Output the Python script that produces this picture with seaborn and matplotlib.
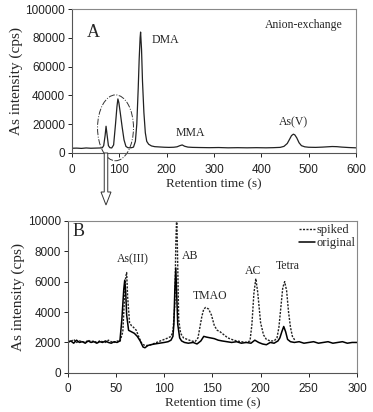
import numpy as np
import pandas as pd
import seaborn as sns
import matplotlib.pyplot as plt
from matplotlib.patches import Ellipse, FancyArrow

# panel A: anion-exchange chromatogram
a_time = [0, 10, 20, 30, 40, 50, 60,
          64, 67, 70, 72, 74, 77, 80,
          84, 88, 92, 95, 97, 99, 102,
          106, 110, 114, 118, 122, 126, 130,
          134, 137, 140, 142, 144, 145, 147,
          149, 152, 155, 158, 162, 168, 175,
          185, 195, 205, 215, 222, 228, 233,
          238, 245, 255, 270, 290, 310, 330,
          350, 370, 390, 410, 425, 440, 448,
          455, 460, 464, 468, 471, 475, 480,
          485, 492, 500, 515, 530, 540, 550,
          560, 570, 585, 600]
a_intensity = [3200, 3300, 3100, 3400, 3200, 3300, 3400,
               3500, 5000, 12000, 18500, 13000, 5000, 3600,
               3400, 5500, 20000, 32000, 37500, 35000, 28000,
               18000, 9000, 4500, 3600, 3500, 3600, 4000,
               8000, 20000, 45000, 65000, 80000, 84000, 72000,
               50000, 28000, 14000, 8000, 6000, 4800, 4300,
               4100, 3900, 3800, 3900, 4200, 5000, 5500,
               4600, 4000, 3800, 3700, 3600, 3700, 3500,
               3600, 3500, 3600, 3500, 3600, 3800, 4500,
               6500, 9500, 12000, 13000, 12500, 10500, 7000,
               5000, 4200, 3900, 3800, 4000, 4200, 4400,
               4300, 4000, 3700, 3500]

# panel B: original sample
b_time = [0, 3, 6, 9, 12, 15, 18, 21, 24, 27,
          30, 33, 36, 39, 42, 45, 48, 51, 54, 56,
          58, 59, 60, 61, 63, 66, 69, 72, 75, 78,
          80, 83, 86, 90, 95, 100, 104, 107, 109, 110,
          111, 112, 113, 114, 116, 118, 121, 125, 130, 134,
          138, 141, 144, 148, 152, 156, 160, 165, 170, 175,
          180, 185, 190, 194, 198, 202, 206, 210, 214, 218,
          220, 222, 224, 226, 228, 231, 235, 240, 245, 250,
          255, 260, 265, 270, 275, 280, 285, 290, 295, 300]
b_original = [2000, 2100, 1950, 2150, 2000, 2050, 1950, 2100, 2000, 2050,
              1950, 2050, 2000, 2100, 2000, 1950, 2050, 2000, 2100, 3500,
              5500, 6100, 5300, 3800, 2800, 2700, 2600, 2400, 2100, 1700,
              1650, 1800, 1850, 1900, 1950, 2000, 2050, 2150, 2400, 3200,
              5500, 6900, 5000, 3200, 2300, 2100, 2000, 1950, 2000, 1900,
              2100, 2400, 2350, 2300, 2250, 2150, 2100, 2050, 2000, 2050,
              1950, 2000, 1950, 2150, 2000, 1900, 1850, 2000, 1950, 2100,
              2300, 2700, 3050, 2700, 2200, 2050, 2000, 2050, 1950, 2000,
              2050, 1950, 2000, 2050, 1950, 2000, 2050, 1950, 2000, 2000]

# panel B: spiked sample
s_time = [0, 3, 6, 9, 12, 15, 18, 21, 24, 27,
          30, 33, 36, 39, 42, 45, 48, 51, 54, 57,
          59, 60, 61, 62, 64, 66, 68, 71, 74, 77,
          80, 84, 88, 92, 96, 100, 104, 107, 109, 111,
          112, 113, 114, 115, 117, 120, 124, 128, 132, 135,
          137, 139, 141, 143, 146, 149, 152, 155, 158, 162,
          166, 170, 175, 180, 185, 189, 191, 193, 195, 197,
          200, 203, 206, 210, 214, 217, 219, 221, 223, 225,
          227, 229, 231, 233, 236]
s_spiked = [2100, 2050, 2200, 2000, 2100, 2050, 2000, 2150, 2050, 2100,
            2000, 2100, 2050, 2000, 2150, 2050, 2000, 2100, 2050, 2700,
            5200, 6300, 6600, 5000, 3300, 3100, 3000, 2800, 2300, 1900,
            1800, 1800, 1900, 2000, 2100, 2200, 2300, 2400, 2700, 4500,
            8500, 10500, 7000, 3500, 2600, 2300, 2200, 2100, 2050, 2300,
            3000, 3700, 4200, 4300, 4200, 3800, 3100, 2800, 2700, 2500,
            2300, 2200, 2100, 2050, 2000, 2100, 3200, 5200, 6200, 5300,
            3300, 2500, 2200, 2100, 2100, 2300, 3000, 4300, 5600, 6000,
            5400, 4000, 3000, 2400, 2100]

a_labels = ['DMA', 'MMA', 'As(V)']
a_label_x = [169, 218, 438]
a_label_y = [78500, 13900, 21500]
b_labels = ['As(III)', 'AB', 'TMAO', 'AC', 'Tetra']
b_label_x = [51, 118, 130, 184, 216]
b_label_y = [7500, 7700, 5070, 6700, 7040]

sns.set_style('ticks')
plt.rcParams['font.family'] = ['Liberation Sans', 'DejaVu Sans']
serif = 'Liberation Serif'

fig = plt.figure(figsize=(3.73, 4.12), dpi=100)
ax1 = fig.add_axes([0.193, 0.629, 0.761, 0.349])
ax2 = fig.add_axes([0.182, 0.095, 0.775, 0.369])

dfa = pd.DataFrame({'t': a_time, 'I': a_intensity})
sns.lineplot(data=dfa, x='t', y='I', ax=ax1, color='#222222', lw=0.9, sort=False)

dfb = pd.DataFrame({'t': b_time, 'I': b_original})
dfs = pd.DataFrame({'t': s_time, 'I': s_spiked})
sns.lineplot(data=dfs, x='t', y='I', ax=ax2, color='#222222', lw=1.0,
             sort=False, label='spiked').lines[-1].set_dashes((1.5, 1))
sns.lineplot(data=dfb, x='t', y='I', ax=ax2, color='black', lw=1.1,
             sort=False, label='original')

for ax in (ax1, ax2):
    for sp in ax.spines.values():
        sp.set_visible(True)
        sp.set_color('#888888')
        sp.set_linewidth(0.8)
    ax.spines['left'].set_color('#555555')
    ax.spines['bottom'].set_color('#555555')
    ax.tick_params(labelsize=8.5, length=3, width=0.7, pad=2, colors='#222222')
    ax.set_ylabel('As intensity (cps)', family=serif, fontsize=11, labelpad=2)
    ax.set_xlabel('Retention time (s)', family=serif, fontsize=9.5, labelpad=2)

ax1.tick_params(axis='x', pad=5)
ax2.tick_params(axis='x', pad=4)

ax1.set_xlim(0, 600)
ax1.set_ylim(0, 100000)
ax1.set_xticks(range(0, 601, 100))
ax1.set_yticks(range(0, 100001, 20000))
ax2.set_xlim(0, 300)
ax2.set_ylim(0, 10000)
ax2.set_xticks(range(0, 301, 50))
ax2.set_yticks(range(0, 10001, 2000))

ax1.text(32, 84000, 'A', family=serif, fontsize=13, va='center')
ax1.text(408, 88900, 'Anion-exchange', family=serif, fontsize=8.5, va='center')
for lab, x, y in zip(a_labels, a_label_x, a_label_y):
    ax1.text(x, y, lab, family=serif, fontsize=8.5, va='center')

ax2.text(5, 9300, 'B', family=serif, fontsize=13, va='center')
for lab, x, y in zip(b_labels, b_label_x, b_label_y):
    ax2.text(x, y, lab, family=serif, fontsize=8.5, va='center')

leg = ax2.legend(loc='upper right', bbox_to_anchor=(1.015, 1.02), frameon=False,
                 handlelength=1.3, handletextpad=0.1, borderaxespad=0.1,
                 labelspacing=0.1, prop={'family': serif, 'size': 9})

# dash-dot ellipse around the early peaks
ax1.add_patch(Ellipse((92, 17400), 76, 45800, fill=False, ls='-.', lw=0.7,
                      ec='#333333', clip_on=False))

# hollow arrow between the panels
fig.patches.append(FancyArrow(1.06, 2.59, 0, -0.52, width=0.035, head_width=0.1,
                              head_length=0.13, length_includes_head=True,
                              fc='white', ec='#333333', lw=0.7,
                              transform=fig.dpi_scale_trans, figure=fig))

fig.savefig('out.png', dpi=100)
